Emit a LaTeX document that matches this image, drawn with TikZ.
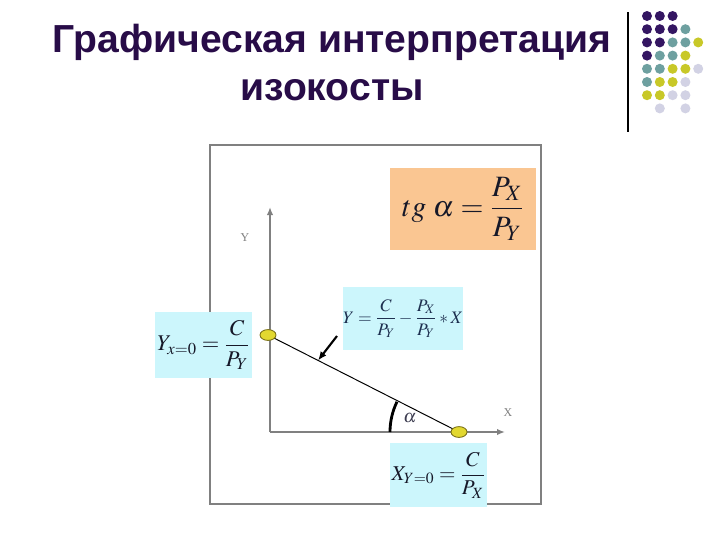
\documentclass[tikz,border=0pt]{standalone}
\usepackage{amsmath}
\usepackage{mathptmx}
\usepackage{fontspec}
\setmainfont{Liberation Serif}
\newfontfamily\titlefont{Liberation Sans}
\usepackage{xcolor}
\usepackage{tikz}
\usetikzlibrary{positioning,arrows.meta,shapes.geometric,calc}

\definecolor{titlepurple}{RGB}{40,12,72}
\definecolor{boxpeach}{RGB}{250,198,146}
\definecolor{boxcyan}{RGB}{204,246,252}
\definecolor{dotpurple}{RGB}{52,22,98}
\definecolor{dotteal}{RGB}{110,160,160}
\definecolor{dotyellow}{RGB}{200,200,40}
\definecolor{dotlav}{RGB}{210,210,228}
\definecolor{pointfill}{RGB}{226,216,48}
\definecolor{pointedge}{RGB}{120,110,20}
\definecolor{formulaink}{RGB}{22,24,40}
\definecolor{lineeqink}{RGB}{30,48,80}

\begin{document}
\begin{tikzpicture}[x=0.025cm, y=-0.025cm,
  titletext/.style={font=\titlefont\bfseries\fontsize{27.8}{32}\selectfont, text=titlepurple},
  formbox/.style={fill=boxcyan, inner sep=0pt, text=formulaink},
  axisline/.style={gray, line width=1.3pt, -{Latex[length=2mm, width=1.6mm]}},
  axislabel/.style={font=\fontsize{8.5}{10}\selectfont, text=gray},
  endpoint/.style={draw=pointedge, fill=pointfill, ellipse, line width=0.6pt,
    minimum width=0.4cm, minimum height=0.27cm, inner sep=0pt}]
\path[fill=white] (0,0) rectangle (720,540);
% heading
\node[titletext, anchor=base] (title1) at (332,52) {Графическая интерпретация};
\node[titletext, anchor=base] (title2) at (332,100) {изокосты};
\draw[line width=0.8pt] (628,12) -- (628,132);
\foreach \c/\r/\col in {0/0/dotpurple, 1/0/dotpurple, 2/0/dotpurple,
    0/1/dotpurple, 1/1/dotpurple, 2/1/dotpurple, 3/1/dotteal,
    0/2/dotpurple, 1/2/dotpurple, 2/2/dotteal, 3/2/dotteal, 4/2/dotyellow,
    0/3/dotpurple, 1/3/dotteal, 2/3/dotteal, 3/3/dotyellow,
    0/4/dotteal, 1/4/dotteal, 2/4/dotyellow, 3/4/dotyellow, 4/4/dotlav,
    0/5/dotteal, 1/5/dotyellow, 2/5/dotyellow, 3/5/dotlav,
    0/6/dotyellow, 1/6/dotyellow, 2/6/dotlav, 3/6/dotlav,
    1/7/dotlav, 3/7/dotlav}
  \fill[\col] (647+12.8*\c, 16+13.2*\r) circle[radius=5];
% frame and axes
\draw[gray, line width=2pt] (210,145) rectangle (541,504);
\coordinate (origin) at (270,432);
\coordinate (ytip) at (270,207);
\coordinate (xtip) at (505,432);
\draw[axisline] (origin) -- (ytip);
\draw[axisline] (origin) -- (xtip);
\node[axislabel] (ylab) at (245,238) {Y};
\node[axislabel] (xlab) at (508,413) {X};
% budget line
\coordinate (ypt) at (268,335);
\coordinate (xpt) at (459,432);
\draw[line width=0.7pt] (ypt) -- (xpt);
\node[endpoint] (ydot) at (ypt) {};
\node[endpoint] (xdot) at (xpt) {};
% formulas
\node[fill=boxpeach, inner sep=0pt, minimum width=3.65cm, minimum height=2.05cm,
  text=formulaink, font=\fontsize{21}{24}\selectfont] (tgbox) at (463,209)
  {$tg\;\alpha=\dfrac{P_X}{P_Y}$};
\node[formbox, minimum width=2.425cm, minimum height=1.65cm,
  font=\fontsize{16}{19}\selectfont] (yzero) at (203.5,345)
  {$Y_{x=0}=\dfrac{C}{P_Y}$};
\node[formbox, minimum width=3cm, minimum height=1.575cm,
  font=\fontsize{12.5}{15}\selectfont, text=lineeqink] (lineeq) at (403,318.5)
  {$Y=\dfrac{C}{P_Y}-\dfrac{P_X}{P_Y}*X$};
\node[formbox, minimum width=2.425cm, minimum height=1.6cm,
  font=\fontsize{15}{18}\selectfont] (xzero) at (438.5,475)
  {$X_{Y=0}=\dfrac{C}{P_X}$};
% pointer to the line and the angle
\coordinate (eqtail) at (337,336);
\coordinate (hit) at ($(ypt)!0.262!(xpt)$);
\draw[line width=1.5pt, -{Latex[length=2.2mm, width=1.8mm]}] (eqtail) -- (hit);
\draw[line width=2pt] (xpt) ++(180:69) arc[start angle=180, end angle=206, radius=69];
\node[text={rgb,255:red,60;green,60;blue,80}, font=\fontsize{13}{15}\selectfont] (alab) at (410,418) {$\alpha$};
\end{tikzpicture}
\end{document}
